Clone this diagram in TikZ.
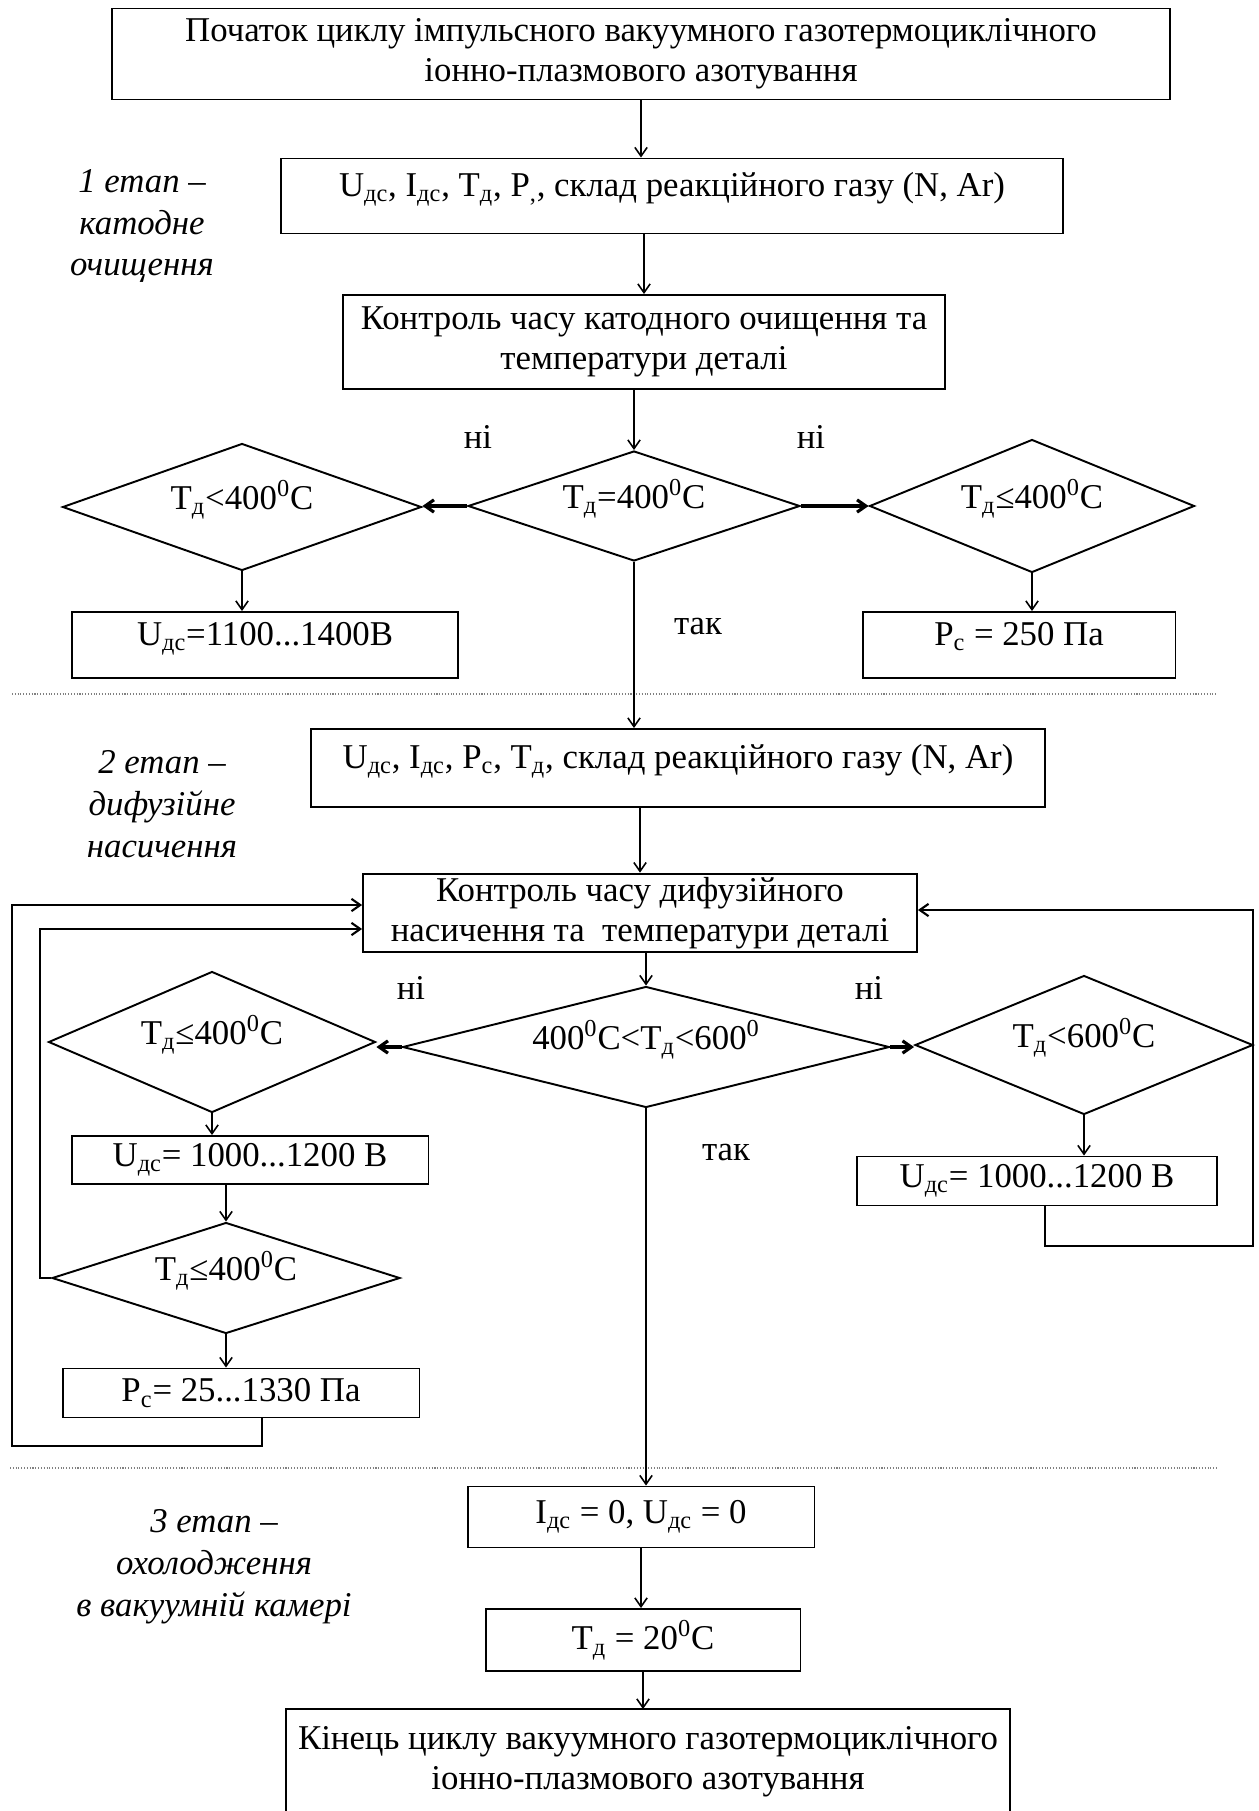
\documentclass[tikz,border=0pt]{standalone}
\usepackage{fontspec}
\setmainfont{Liberation Serif}
\usetikzlibrary{shapes.geometric,arrows.meta}

\begin{document}
\begin{tikzpicture}[x=0.02cm, y=-0.02cm,
  font=\fontsize{19.8}{22.8}\selectfont,
  box/.style={draw, line width=1.1pt, rectangle, inner sep=2pt, align=center},
  hibox/.style={box, text height=0.5cm, text depth=0.5cm},
  cond/.style={draw, line width=1.1pt, diamond, aspect=4, inner sep=0pt,
    text height=0.5cm, text depth=0.4cm},
  flow/.style={line width=0.9pt, -{Straight Barb[length=5pt,width=7pt]}},
  branch/.style={flow, line width=1.8pt},
  back/.style={flow, line width=1.2pt},
  stage/.style={font=\fontsize{19.8}{23.8}\selectfont\itshape, align=center},
  sep/.style={densely dotted, line width=0.6pt, gray}]
  \useasboundingbox (0,0) rectangle (1258,1811);

  % stage 1
  \node (start) [box, minimum width=21.16cm, minimum height=1.82cm] at (641,54)
    {Початок циклу імпульсного вакуумного газотермоциклічного\\іонно-плазмового азотування};
  \node (par1) [hibox, minimum width=15.64cm, minimum height=1.5cm] at (672,196)
    {U\textsubscript{дс}, I\textsubscript{дс}, T\textsubscript{д}, P\textsubscript{,}, склад реакційного газу (N, Ar)};
  \node (ctl1) [box, minimum width=12.04cm, minimum height=1.88cm] at (644,342)
    {Контроль часу катодного очищення та\\температури деталі};
  \node (d1) [cond, minimum width=6.64cm, minimum height=2.2cm] at (634,506)
    {T\textsubscript{д}=400\textsuperscript{0}C};
  \node (d1L) [cond, minimum width=7.18cm, minimum height=2.54cm] at (242,507)
    {T\textsubscript{д}<400\textsuperscript{0}C};
  \node (d1R) [cond, minimum width=6.5cm, minimum height=2.66cm] at (1032,506)
    {T\textsubscript{д}≤400\textsuperscript{0}C};
  \node (u1) [hibox, minimum width=7.72cm, minimum height=1.32cm] at (265,645)
    {U\textsubscript{дс}=1100...1400В};
  \node (p1) [hibox, minimum width=6.26cm, minimum height=1.32cm] at (1019,645)
    {P\textsubscript{с} = 250 Па};

  % stage 2
  \node (par2) [hibox, minimum width=14.68cm, minimum height=1.56cm] at (678,768)
    {U\textsubscript{дс}, I\textsubscript{дс}, P\textsubscript{с}, T\textsubscript{д}, склад реакційного газу (N, Ar)};
  \node (ctl2) [box, minimum width=11.08cm, minimum height=1.56cm] at (640,913)
    {Контроль часу дифузійного\\насичення та \ температури деталі};
  \node (d2) [cond, minimum width=9.74cm, minimum height=2.42cm] at (646,1047)
    {400\textsuperscript{0}C<T\textsubscript{д}<600\textsuperscript{0}};
  \node (d2L) [cond, minimum width=6.54cm, minimum height=2.82cm] at (212,1042)
    {T\textsubscript{д}≤400\textsuperscript{0}C};
  \node (d2R) [cond, minimum width=6.76cm, minimum height=2.78cm] at (1084,1045)
    {T\textsubscript{д}<600\textsuperscript{0}C};
  \node (u2L) [box, minimum width=7.14cm, minimum height=0.96cm] at (250,1160)
    {U\textsubscript{дс}= 1000...1200 В};
  \node (d3) [cond, minimum width=6.96cm, minimum height=2.22cm] at (226,1278)
    {T\textsubscript{д}≤400\textsuperscript{0}C};
  \node (p2) [box, minimum width=7.14cm, minimum height=0.98cm] at (241,1393)
    {P\textsubscript{с}= 25...1330 Па};
  \node (u2R) [box, minimum width=7.2cm, minimum height=0.98cm] at (1037,1181)
    {U\textsubscript{дс}= 1000...1200 В};

  % stage 3
  \node (cool) [box, minimum width=6.94cm, minimum height=1.22cm] at (641,1517)
    {I\textsubscript{дс} = 0, U\textsubscript{дс} = 0};
  \node (t20) [box, minimum width=6.3cm, minimum height=1.24cm] at (643,1640)
    {T\textsubscript{д} = 20\textsuperscript{0}C};
  \node (fin) [box, draw=none, minimum width=14.46cm, minimum height=2.08cm] at (648,1762)
    {Кінець циклу вакуумного газотермоциклічного\\іонно-плазмового азотування};
  \draw [line width=1.1pt] (fin.south west) -- (fin.north west) -- (fin.north east) -- (fin.south east);

  % stage names
  \node (st1) [stage] at (142,226) {1 етап –\\катодне\\очищення};
  \node (st2) [stage] at (162,804) {2 етап –\\дифузійне\\насичення};
  \node (st3) [stage] at (214,1567) {3 етап –\\охолодження\\в вакуумній камері};

  % branch labels
  \node (no1) at (478,437) {ні};
  \node (no2) at (811,437) {ні};
  \node (yes1) at (698,627) {так};
  \node (no3) at (411,988) {ні};
  \node (no4) at (869,988) {ні};
  \node (yes2) at (726,1152) {так};

  \draw [sep] (12,694) -- (1217,694);
  \draw [sep] (10,1468) -- (1217,1468);

  % arrows
  \draw [flow] (start.south) -- (start.south |- par1.north);
  \draw [flow] (ctl1.north |- par1.south) -- (ctl1.north);
  \draw [flow] (d1.north |- ctl1.south) -- (d1.north);
  \draw [branch] (d1.west) -- (d1.west -| d1L.east);
  \draw [branch] (d1.east) -- (d1.east -| d1R.west);
  \draw [flow] (d1L.south) -- (d1L.south |- u1.north);
  \draw [flow] (d1R.south) -- (d1R.south |- p1.north);
  \draw [flow] (d1.south) -- (d1.south |- par2.north);
  \draw [flow] (par2.south -| ctl2.north) -- (ctl2.north);
  \draw [flow] (d2.north |- ctl2.south) -- (d2.north);
  \draw [branch] (d2.west) -- (d2.west -| d2L.east);
  \draw [branch] (d2.east) -- (d2.east -| d2R.west);
  \draw [flow] (d2L.south) -- (d2L.south |- u2L.north);
  \draw [flow] (d3.north |- u2L.south) -- (d3.north);
  \draw [flow] (d3.south) -- (d3.south |- p2.north);
  \draw [flow] (d2R.south) -- (d2R.south |- u2R.north);
  \draw [flow] (d2.south) -- (d2.south |- cool.north);
  \draw [flow] (cool.south) -- (cool.south |- t20.north);
  \draw [flow] (t20.south) -- (t20.south |- fin.north);

  % feedback loops
  \coordinate (outL) at (12,1446);
  \coordinate (inL) at (40,1278);
  \coordinate (outR) at (1253,1246);
  \draw [back] ([xshift=0.42cm]p2.south) |- (outL) |- ([yshift=0.16cm]ctl2.west);
  \draw [back] (d3.west) -- (inL) |- ([yshift=-0.32cm]ctl2.west);
  \draw [back] ([xshift=0.16cm]u2R.south) |- (outR) |- ([yshift=0.06cm]ctl2.east);
\end{tikzpicture}
\end{document}
